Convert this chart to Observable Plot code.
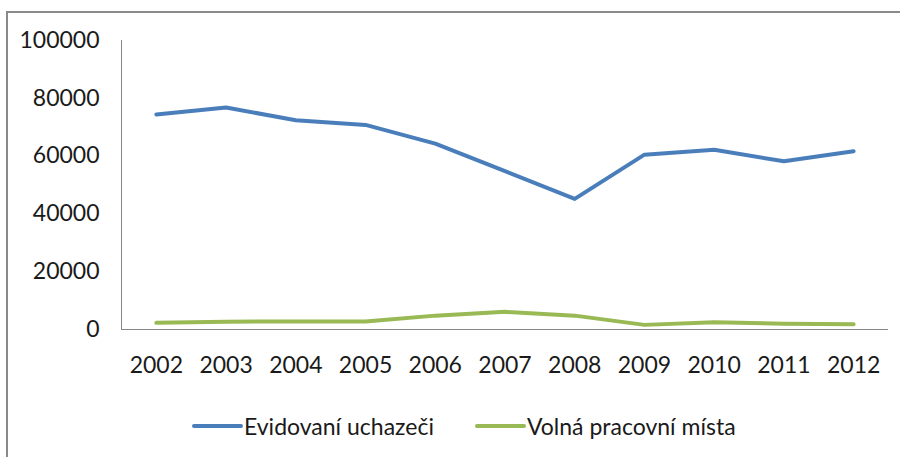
<!DOCTYPE html>
<html>
<head>
<meta charset="utf-8">
<script src="https://cdn.jsdelivr.net/npm/d3@7"></script>
<script src="https://cdn.jsdelivr.net/npm/@observablehq/plot@0.6"></script>
<style>
  html, body { margin: 0; padding: 0; background: #fff; width: 900px; height: 457px; overflow: hidden; }
  #frame { position: absolute; left: 6px; top: 11px; width: 1000px; height: 1000px;
           border-left: 2px solid #8a8a8a; border-top: 2px solid #8a8a8a; box-sizing: border-box; }
  #chart { position: absolute; left: 0; top: 0; width: 900px; }
  #legend { display: flex; align-items: center; height: 30px; margin-top: 31px; padding-left: 192px;
            font-family: Lato, "Open Sans", sans-serif; font-size: 23px; color: #1a1a1a; }
  .sw { width: 51px; height: 4px; border-radius: 2px; }
  .lab { margin-left: 1px; }
  .item { display: flex; align-items: center; }
</style>
</head>
<body>
<div id="frame"></div>
<div id="chart"></div>
<script>
const years = [2002, 2003, 2004, 2005, 2006, 2007, 2008, 2009, 2010, 2011, 2012];
const seriesNames = ["Evidovaní uchazeči", "Volná pracovní místa"];
const seriesColors = ["#4a7ebb", "#98b954"];
const applicants = [74400, 76800, 72400, 70800, 64300, 54800, 45200, 60500, 62200, 58200, 61700];
const vacancies = [2300, 2700, 2800, 2800, 4800, 6100, 4800, 1600, 2500, 2000, 1800];
const yTicks = [0, 20000, 40000, 60000, 80000, 100000];

const data = [
  ...years.map((y, i) => ({year: y, value: applicants[i], series: seriesNames[0]})),
  ...years.map((y, i) => ({year: y, value: vacancies[i], series: seriesNames[1]}))
];

const chart = Plot.plot({
  width: 900,
  height: 380,
  marginLeft: 121,
  marginRight: 12,
  marginTop: 40,
  marginBottom: 51,
  style: {fontFamily: "Lato, 'Open Sans', sans-serif", fontSize: "23px", color: "#1a1a1a", background: "transparent", overflow: "visible"},
  x: {domain: [years[0] - 0.5, years[years.length - 1] + 0.5], ticks: years, tickFormat: d => String(d), tickSize: 0, tickPadding: 27, label: null},
  y: {domain: [0, 100000], ticks: yTicks, tickFormat: d3.format("d"), tickSize: 0, tickPadding: 22, label: null},
  color: {domain: seriesNames, range: seriesColors},
  marks: [
    Plot.ruleX([years[0] - 0.5], {stroke: "#868686", strokeWidth: 1}),
    Plot.ruleY([0], {stroke: "#868686", strokeWidth: 1}),
    Plot.line(data, {x: "year", y: "value", z: "series", stroke: "series", strokeWidth: 4, strokeLinejoin: "round", strokeLinecap: "round"})
  ]
});
const container = document.getElementById("chart");
container.appendChild(chart);

const legend = document.createElement("div");
legend.id = "legend";
seriesNames.forEach((name, i) => {
  const item = document.createElement("div");
  item.className = "item";
  if (i > 0) item.style.marginLeft = "41px";
  const sw = document.createElement("div");
  sw.className = "sw";
  sw.style.background = seriesColors[i];
  const lab = document.createElement("span");
  lab.className = "lab";
  lab.textContent = name;
  item.appendChild(sw);
  item.appendChild(lab);
  legend.appendChild(item);
});
container.appendChild(legend);
</script>
</body>
</html>
